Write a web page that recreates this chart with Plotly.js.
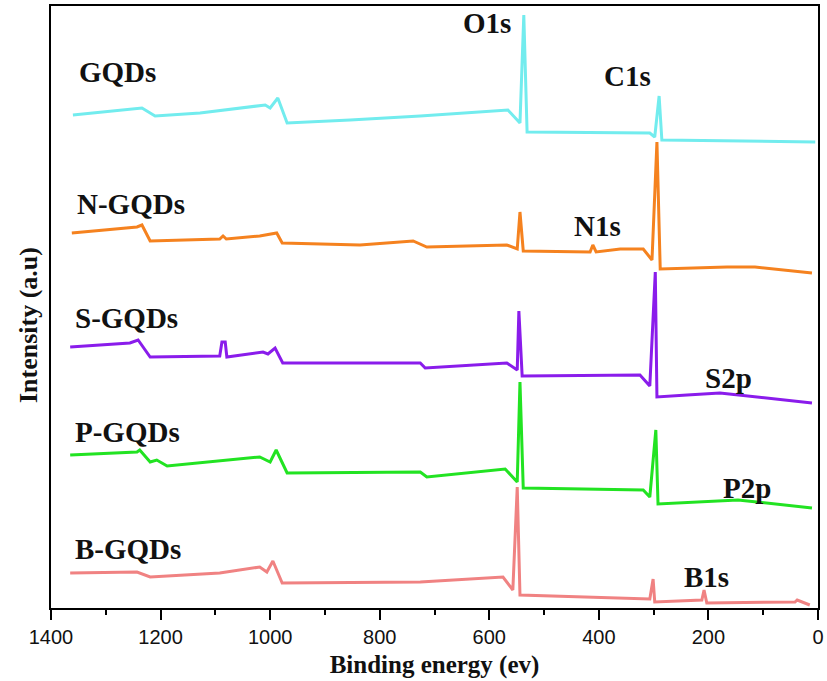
<!DOCTYPE html>
<html>
<head>
<meta charset="utf-8">
<script src="https://cdn.plot.ly/plotly-3.0.1.min.js"></script>
<style>html,body{margin:0;padding:0;background:#fff;}#chart{width:827px;height:681px;}</style>
</head>
<body>
<div id="chart"></div>
<script>
// Binding energy (eV) and intensity (a.u., stacked offsets as in the figure)
const gqdE = [1360,1234,1210,1128,1009,1000,986,969,854,726,566,544,537,531,307,298,290,285,5];
const gqdI = [493,500,492,495,503,500,510,485,488,492,498,485,593,476,475,471,512,468,466];

const nE = [1362,1243,1234,1219,1092,1086,1080,1019,988,978,836,739,714,568,549,544,538,416,411,405,361,319,303,294,288,166,115,11];
const nI = [375,381,383,367,369,372,369,372,375,365,363,367,361,363,359,396,357,356,363,356,359,359,348,466,339,341,341,335];

const sE = [1365,1256,1241,1219,1092,1088,1082,1079,1013,1004,991,977,726,717,568,549,546,540,325,307,297,294,239,179,11];
const sI = [261,265,268,251,252,266,266,251,256,254,260,245,245,240,245,238,297,232,233,222,336,211,213,215,205];

const pE = [1365,1243,1238,1219,1207,1188,1019,1000,989,969,726,714,571,549,544,538,319,307,296,292,146,11];
const pI = [153,156,158,146,148,142,151,146,158,135,136,131,139,126,226,120,118,111,178,104,108,100];

const bE = [1365,1243,1219,1092,1019,1006,995,978,726,575,557,549,544,307,301,298,212,208,203,42,38,15];
const bI = [35,36,31,35,41,36,47,25,26,31,18,121,13,9,29,6,8,18,5,6,8,3];

const seriesNames = ["GQDs","N-GQDs","S-GQDs","P-GQDs","B-GQDs"];
const seriesColors = ["#72ECEE","#F5821F","#8A1CEB","#22E322","#F08282"];

// Peak labels: [text, energy, intensity]
const peakLabels = [["O1s",604,585],["C1s",347,532],["N1s",403,382],["S2p",164,230],["P2p",130,120],["B1s",203,31]];
// Sample labels: [text, energy, intensity]
const sampleLabels = [["GQDs",1279,536],["N-GQDs",1254,404],["S-GQDs",1263,290],["P-GQDs",1261,176],["B-GQDs",1259,59]];

const xs = [gqdE,nE,sE,pE,bE];
const ys = [gqdI,nI,sI,pI,bI];
const traces = xs.map((x,i)=>({
  x:x, y:ys[i], type:'scatter', mode:'lines', name:seriesNames[i],
  line:{color:seriesColors[i], width:3}, hoverinfo:'skip'
}));

const serif = '"Liberation Serif","Times New Roman",serif';
const labelFont = {family:serif, size:29, color:'#111'};
const annotations = peakLabels.concat(sampleLabels).map(l=>({
  text:'<b>'+l[0]+'</b>', x:l[1], y:l[2], xref:'x', yref:'y', showarrow:false,
  xanchor:'center', yanchor:'middle', font:labelFont
}));
annotations.push({
  text:'<b>Intensity (a.u)</b>', xref:'paper', yref:'paper', x:-0.030, y:0.470,
  xanchor:'center', yanchor:'middle', textangle:-90, showarrow:false,
  font:{family:serif, size:26, color:'#111'}
});

const layout = {
  width:827, height:681,
  margin:{l:51, r:9, t:6, b:73},
  paper_bgcolor:'#fff', plot_bgcolor:'#fff',
  showlegend:false,
  xaxis:{
    range:[1400,0], autorange:false,
    tickmode:'array', tickvals:[1400,1200,1000,800,600,400,200,0],
    ticktext:['1400','1200','1000','800','600','400','200','0'],
    ticks:'outside', ticklen:10, tickwidth:2, tickcolor:'#000',
    minor:{tickvals:[1300,1100,900,700,500,300,100], ticks:'outside', ticklen:5, tickwidth:2, tickcolor:'#000', showgrid:false},
    showline:true, linecolor:'#000', linewidth:2, mirror:true,
    showgrid:false, zeroline:false,
    tickfont:{family:'"Liberation Sans",Arial,sans-serif', size:20, color:'#111'},
    title:{text:'<b>Binding energy (ev)</b>', standoff:8,
      font:{family:serif, size:25, color:'#111'}}
  },
  yaxis:{
    range:[0,602], autorange:false,
    showticklabels:false, ticks:'',
    showline:true, linecolor:'#000', linewidth:2, mirror:true,
    showgrid:false, zeroline:false
  },
  annotations:annotations
};

Plotly.newPlot('chart', traces, layout, {displayModeBar:false, staticPlot:true});
</script>
</body>
</html>
